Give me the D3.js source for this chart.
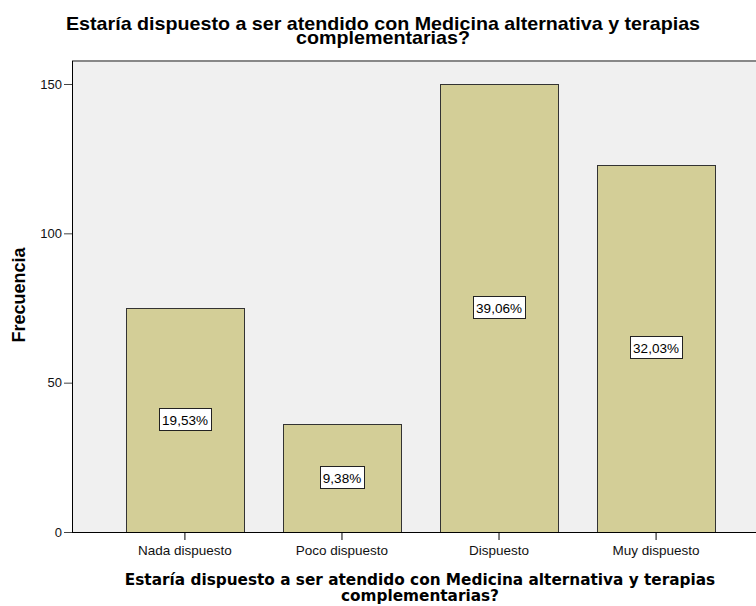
<!doctype html>
<html lang="es">
<head>
<meta charset="utf-8">
<style>
  body { margin: 0; background: #fff; }
  svg { display: block; font-family: "Liberation Sans", Arial, sans-serif; }
  .bar { fill: #d3ce97; stroke: #333; stroke-width: 1; }
  .lbl rect { fill: #fff; stroke: #222; stroke-width: 1; }
</style>
</head>
<body>
<script src="https://cdn.jsdelivr.net/npm/d3@7"></script>
<script>
var categories = ["Nada dispuesto", "Poco dispuesto", "Dispuesto", "Muy dispuesto"];
var counts = [75, 36, 150, 123];
var percents = ["19,53%", "9,38%", "39,06%", "32,03%"];
var yTicks = [0, 50, 100, 150];
var titleLines = ["Estaría dispuesto a ser atendido con Medicina alternativa y terapias", "complementarias?"];

var width = 756, height = 606;
var plotLeft = 72, plotTop = 61, plotBottom = 532, plotRight = 769;

var svg = d3.select("body").append("svg")
  .attr("width", width)
  .attr("height", height);

var x = d3.scaleBand()
  .domain(categories)
  .range([plotLeft, plotRight])
  .paddingInner(0.25)
  .paddingOuter(0.344);

var y = d3.scaleLinear()
  .domain([0, 157.7])
  .range([plotBottom, plotTop]);

// plot background
svg.append("rect")
  .attr("x", plotLeft).attr("y", plotTop)
  .attr("width", plotRight - plotLeft).attr("height", plotBottom - plotTop)
  .attr("fill", "#f0f0f0");
svg.append("line")
  .attr("x1", plotLeft).attr("x2", plotRight)
  .attr("y1", plotTop).attr("y2", plotTop)
  .attr("stroke", "#888").attr("stroke-width", 2);

// bars
svg.selectAll(".bar")
  .data(counts)
  .enter().append("rect")
  .attr("class", "bar")
  .attr("x", function(d, i) { return Math.round(x(categories[i])) + 0.5; })
  .attr("y", function(d) { return Math.round(y(d)) + 0.5; })
  .attr("width", Math.round(x.bandwidth()))
  .attr("height", function(d) { return plotBottom - Math.round(y(d)); });

// percent labels
var lbl = svg.selectAll(".lbl")
  .data(counts)
  .enter().append("g")
  .attr("class", "lbl")
  .attr("transform", function(d, i) {
    var cx = Math.round(x(categories[i]) + x.bandwidth() / 2);
    var cy = Math.round((y(d) + y(0)) / 2);
    return "translate(" + cx + "," + cy + ")";
  });
lbl.append("text")
  .attr("text-anchor", "middle")
  .attr("dy", "0.36em")
  .attr("font-size", 13.5)
  .text(function(d, i) { return percents[i]; });
lbl.each(function() {
  var g = d3.select(this);
  var b = g.select("text").node().getBBox();
  g.insert("rect", "text")
    .attr("x", Math.round(b.x - 3) + 0.5)
    .attr("y", -11.5)
    .attr("width", Math.round(b.width + 6))
    .attr("height", 22);
});

// y axis
var yAxis = svg.append("g")
  .attr("transform", "translate(" + plotLeft + ",0)")
  .call(d3.axisLeft(y).tickValues(yTicks).tickSize(8).tickPadding(2));
yAxis.select(".domain").attr("stroke", "#000").attr("d", "M0.5," + plotBottom + "V" + plotTop);
yAxis.selectAll(".tick line").attr("stroke", "#444");
yAxis.selectAll("text").attr("font-size", 13).attr("fill", "#111").attr("font-family", "Liberation Sans, Arial, sans-serif");

// x axis
var xAxis = svg.append("g")
  .attr("transform", "translate(0," + plotBottom + ")")
  .call(d3.axisBottom(x).tickSize(8).tickPadding(5));
xAxis.select(".domain").attr("stroke", "#000").attr("d", "M" + plotLeft + ",0.5H" + plotRight);
xAxis.selectAll(".tick line").attr("stroke", "#000");
xAxis.selectAll("text").attr("font-size", 13.5).attr("fill", "#111").attr("font-family", "Liberation Sans, Arial, sans-serif");

// chart title (slightly stretched horizontally, as in the source image)
svg.append("text")
  .attr("transform", "translate(383,0) scale(1.125,1)")
  .attr("y", 30)
  .attr("text-anchor", "middle")
  .attr("font-size", 17.5).attr("font-weight", "bold")
  .selectAll("tspan").data(titleLines).enter().append("tspan")
  .attr("x", 0).attr("dy", function(d, i) { return i ? 14.5 : 0; })
  .text(function(d) { return d; });

// x axis title
svg.append("text")
  .attr("y", 585)
  .attr("text-anchor", "middle")
  .attr("font-size", 15.3).attr("font-weight", "bold")
  .attr("font-family", "DejaVu Sans, Verdana, sans-serif")
  .selectAll("tspan").data(titleLines).enter().append("tspan")
  .attr("x", 420).attr("dy", function(d, i) { return i ? 15.5 : 0; })
  .text(function(d) { return d; });

// y axis title
svg.append("text")
  .attr("transform", "translate(25,295) rotate(-90)")
  .attr("text-anchor", "middle")
  .attr("font-size", 18).attr("font-weight", "bold")
  .text("Frecuencia");
</script>
</body>
</html>
